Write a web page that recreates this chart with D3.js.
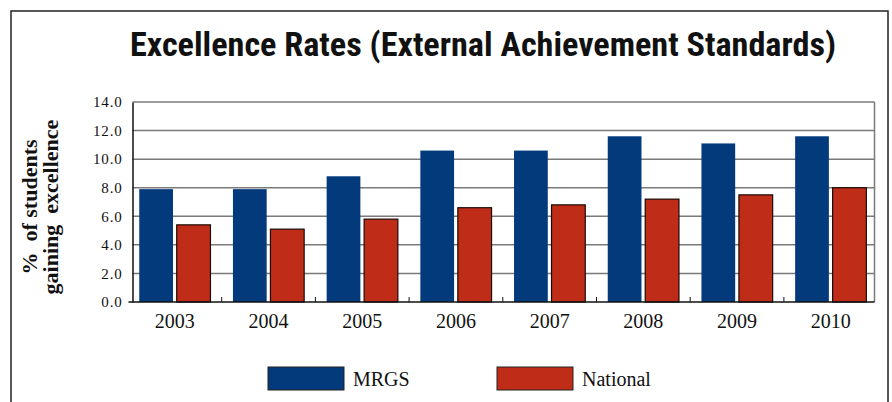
<!DOCTYPE html>
<html>
<head>
<meta charset="utf-8">
<script src="https://cdn.jsdelivr.net/npm/d3@7"></script>
<style>
  body { margin: 0; background: #fff; }
  svg text { font-family: "Liberation Serif", "DejaVu Serif", serif; fill: #111; }
</style>
</head>
<body>
<div id="chart"></div>
<script>
var years = ["2003", "2004", "2005", "2006", "2007", "2008", "2009", "2010"];
var series = ["MRGS", "National"];
var mrgs = [7.9, 7.9, 8.8, 10.6, 10.6, 11.6, 11.1, 11.6];
var national = [5.4, 5.1, 5.8, 6.6, 6.8, 7.2, 7.5, 8.0];
var yTicks = [0, 2, 4, 6, 8, 10, 12, 14];

var width = 892;
var height = 402;
var colors = { MRGS: "#023a7c", National: "#bf2d18" };

var data = years.map(function(y, i) {
  return { year: y, MRGS: mrgs[i], National: national[i] };
});

var svg = d3.select("#chart")
  .append("svg")
  .attr("width", width)
  .attr("height", height);

/* outer frame */
svg.append("rect")
  .attr("x", 11)
  .attr("y", 11)
  .attr("width", 877)
  .attr("height", 420)
  .attr("fill", "none")
  .attr("stroke", "#222")
  .attr("stroke-width", 1.5);

/* title */
svg.append("text")
  .attr("x", 483)
  .attr("y", 56)
  .attr("text-anchor", "middle")
  .style("font-family", "'Liberation Sans Narrow', 'Roboto Condensed', Roboto, 'Liberation Sans', sans-serif")
  .style("font-stretch", "condensed")
  .style("font-weight", "bold")
  .style("font-size", "33px")
  .attr("textLength", 706)
  .attr("lengthAdjust", "spacingAndGlyphs")
  .text("Excellence Rates (External Achievement Standards)");

/* Scales */
var plotLeft = 132.5, plotRight = 874.5;
var x = d3.scaleBand()
  .domain(years)
  .range([128, 877.6]);

var xSub = d3.scaleBand()
  .domain(series)
  .range([0, x.bandwidth()])
  .paddingInner(0.1)
  .paddingOuter(0.3);

var y = d3.scaleLinear()
  .domain([0, 14])
  .range([302, 102]);

/* gridlines */
svg.append("g")
  .selectAll("line")
  .data(yTicks.filter(d => d > 0))
  .enter()
  .append("line")
  .attr("x1", plotLeft)
  .attr("x2", plotRight)
  .attr("y1", d => y(d))
  .attr("y2", d => y(d))
  .attr("stroke", "#7a7a7a")
  .attr("stroke-width", 1.5);

/* right frame of plot */
svg.append("line")
  .attr("x1", plotRight)
  .attr("x2", plotRight)
  .attr("y1", y(14))
  .attr("y2", y(0))
  .attr("stroke", "#7a7a7a")
  .attr("stroke-width", 1.5);

/* bars */
var groups = svg.append("g")
  .selectAll("g")
  .data(data)
  .enter()
  .append("g")
  .attr("transform", d => `translate(${x(d.year)},0)`);

groups.selectAll("rect")
  .data(d => series.map(s => ({ key: s, value: d[s] })))
  .enter()
  .append("rect")
  .attr("x", d => xSub(d.key))
  .attr("y", d => y(d.value))
  .attr("width", xSub.bandwidth())
  .attr("height", d => y(0) - y(d.value))
  .attr("fill", d => colors[d.key])
  .attr("stroke", d => d.key == "National" ? "#1a0a06" : "none")
  .attr("stroke-width", 1.2);

/* y axis */
var yAxis = d3.axisLeft(y)
  .tickValues(yTicks)
  .tickFormat(d3.format(".1f"))
  .tickSize(0)
  .tickPadding(10);

var yg = svg.append("g")
  .attr("transform", `translate(${plotLeft},0)`)
  .call(yAxis);
yg.select(".domain").attr("stroke", "#111").attr("stroke-width", 1.5);
yg.selectAll("text")
  .style("font-family", "'Liberation Serif', serif")
  .style("font-size", "15px")
  .style("letter-spacing", "0.8px")
  .attr("fill", "#111");

/* x axis */
var xAxis = d3.axisBottom(x)
  .tickSize(0)
  .tickPadding(12);

var xg = svg.append("g")
  .attr("transform", `translate(0,${y(0)})`)
  .call(xAxis);
xg.select(".domain").remove();
xg.selectAll("text")
  .style("font-family", "'Liberation Serif', serif")
  .style("font-size", "20px")
  .attr("fill", "#111");

svg.append("line")
  .attr("x1", plotLeft - 4)
  .attr("x2", plotRight)
  .attr("y1", y(0))
  .attr("y2", y(0))
  .attr("stroke", "#111")
  .attr("stroke-width", 1.5);

/* category separator ticks */
svg.append("g")
  .selectAll("line")
  .data(years.slice(1))
  .enter()
  .append("line")
  .attr("x1", d => x(d))
  .attr("x2", d => x(d))
  .attr("y1", y(0) - 5)
  .attr("y2", y(0))
  .attr("stroke", "#111")
  .attr("stroke-width", 1);

/* y axis title */
var yTitle = svg.append("text")
  .attr("transform", "translate(0,207) rotate(-90)")
  .attr("text-anchor", "middle")
  .style("font-weight", "bold")
  .style("font-size", "22px");
yTitle.append("tspan").attr("x", 0).attr("y", 37).attr("xml:space", "preserve").text("%  of students");
yTitle.append("tspan").attr("x", 0).attr("y", 58).attr("xml:space", "preserve").text("gaining  excellence");

/* legend */
var legendX = [268, 497];
var legend = svg.selectAll(".legend")
  .data(series)
  .enter()
  .append("g")
  .attr("class", "legend")
  .attr("transform", (d, i) => `translate(${legendX[i]},367)`);

legend.append("rect")
  .attr("width", 76)
  .attr("height", 23)
  .attr("fill", d => colors[d])
  .attr("stroke", "#222")
  .attr("stroke-width", 1);

legend.append("text")
  .attr("x", 85)
  .attr("y", 19)
  .style("font-size", "20px")
  .text(d => d);
</script>
</body>
</html>
